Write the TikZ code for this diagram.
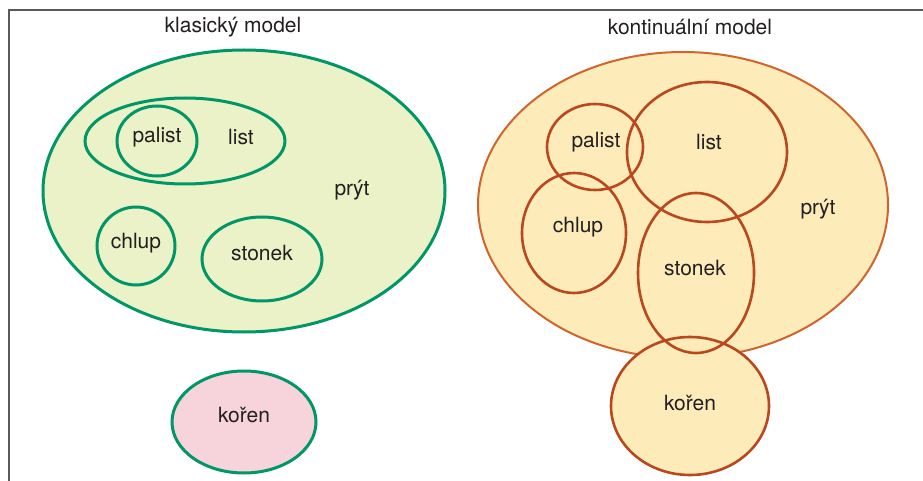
\documentclass[tikz,border=0pt]{standalone}
\usepackage{fontspec}
\setmainfont{TeX Gyre Heros}
\definecolor{zelena}{RGB}{0,150,104}
\definecolor{svetlazelena}{RGB}{235,242,200}
\definecolor{ruzova}{RGB}{247,212,220}
\definecolor{okrova}{RGB}{253,235,186}
\definecolor{hneda}{RGB}{186,72,30}
\definecolor{oranzova}{RGB}{208,100,45}
\definecolor{text}{RGB}{35,31,32}

\begin{document}
\begin{tikzpicture}
   [x=1pt,y=-1pt,every node/.style={text=text,inner sep=0pt,font=\fontsize{21}{25}\selectfont},
    klas/.style={draw=zelena,line width=3pt},
    kont/.style={draw=hneda,line width=2.6pt}]

  \useasboundingbox (0,0) rectangle (923,481);
  % ramecek
  \draw[line width=1.2pt,black!65] (9,481) -- (9,10) -- (923,10);

  % klasicky model
  \filldraw[klas,fill=svetlazelena] (244,191) ellipse [x radius=201,y radius=141];
  \draw[klas] (185,141) ellipse [x radius=100,y radius=43];
  \draw[klas] (157,141) ellipse [x radius=40,y radius=35];
  \draw[klas] (136,246) ellipse [x radius=39,y radius=39];
  \draw[klas] (262,259) ellipse [x radius=60,y radius=42];
  \filldraw[klas,fill=ruzova] (244,422) ellipse [x radius=72,y radius=51];

  \node (tk) at (233,27) {klasický model};
  \node (pk) at (157,137) {palist};
  \node (lk) at (241,137) {list};
  \node (rk) at (352,190) {prýt};
  \node (ck) at (136,243) {chlup};
  \node (sk) at (262,253) {stonek};
  \node (kk) at (244,415) {kořen};

  % kontinualni model
  \filldraw[draw=oranzova,line width=2pt,fill=okrova] (683,205) ellipse [x radius=205,y radius=153];
  \filldraw[kont,fill=okrova] (690,406) ellipse [x radius=79,y radius=69];
  \draw[kont] (595,147) ellipse [x radius=48,y radius=43];
  \draw[kont] (707,152) ellipse [x radius=80,y radius=70];
  \draw[kont] (574,233) ellipse [x radius=52,y radius=60];
  \draw[kont] (696,273) ellipse [x radius=58,y radius=80];

  \node (tn) at (690,27) {kontinuální model};
  \node (pn) at (596,142) {palist};
  \node (ln) at (709,142) {list};
  \node (rn) at (818,209) {prýt};
  \node (cn) at (578,227) {chlup};
  \node (sn) at (695,268) {stonek};
  \node (kn) at (690,403) {kořen};

\end{tikzpicture}
\end{document}
